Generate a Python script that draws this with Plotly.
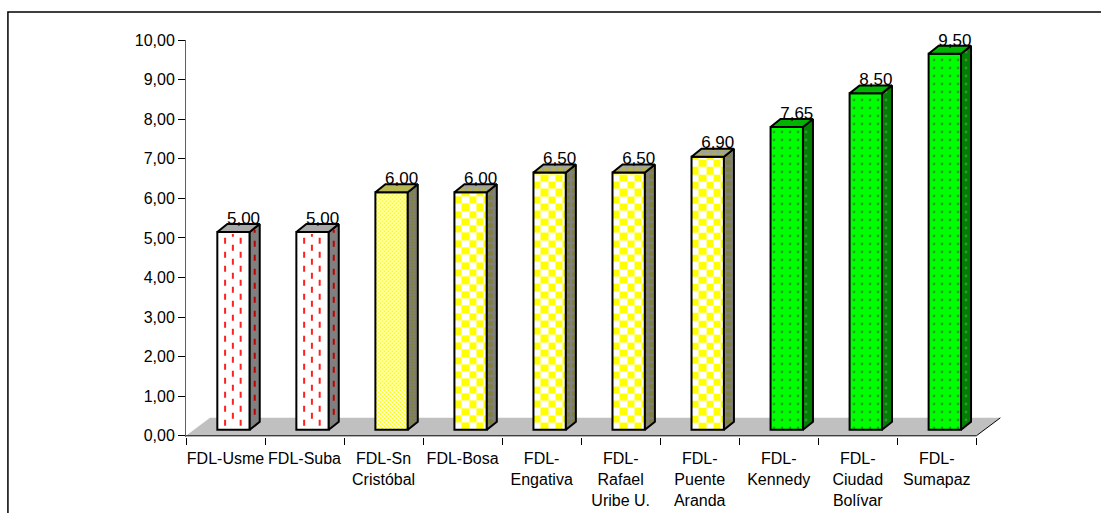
import numpy as np
import plotly.graph_objects as go

# ---- data -------------------------------------------------------------
categories = [
    "FDL-Usme", "FDL-Suba", "FDL-Sn<br>Cristóbal", "FDL-Bosa", "FDL-<br>Engativa",
    "FDL-<br>Rafael<br>Uribe U.", "FDL-<br>Puente<br>Aranda", "FDL-<br>Kennedy",
    "FDL-<br>Ciudad<br>Bolívar", "FDL-<br>Sumapaz",
]
values = [5.00, 5.00, 6.00, 6.00, 6.50, 6.50, 6.90, 7.65, 8.50, 9.50]
fill_styles = ["dashes", "dashes", "dither", "checker", "checker",
               "checker", "checker", "dots", "dots", "dots"]
y_ticks = list(range(0, 11))

# ---- geometry of the pseudo-3D layout ---------------------------------
W, H = 1101, 513
PX_X, PX_Y = 79.0, 39.6          # pixels per category / per unit
X_MIN, X_MAX = -0.5, 9.85
Y_MIN, Y_MAX = -0.03, 10.0
LEFT, TOP = 186.0, 40.0
plot_w = (X_MAX - X_MIN) * PX_X
plot_h = (Y_MAX - Y_MIN) * PX_Y
plot_bottom = TOP + plot_h

SHIFT_X, SHIFT_Y = 8 / PX_X, 6 / PX_Y     # bar plane sits mid-depth on the floor
BAR_W = 0.41
DX, DY = 10 / PX_X, 8 / PX_Y              # bar depth
FX, FY = 24 / PX_X, 18 / PX_Y             # floor depth
LABEL_DX, LABEL_DY = 10 / PX_X, -4 / PX_Y  # value label nudge
n = len(values)
xs = np.arange(n, dtype=float)

FONT = "Liberation Sans, Arial, sans-serif"

fig = go.Figure()

# ---- floor and category axis line (main subplot) -----------------------
fig.add_trace(go.Scatter(
    x=[-0.5, n - 0.5, n - 0.5 + FX, -0.5 + FX, -0.5],
    y=[0, 0, FY, FY, 0], mode="lines", fill="toself",
    fillcolor="#c0c0c0", line=dict(width=0), hoverinfo="skip", showlegend=False))
fig.add_trace(go.Scatter(
    x=[-0.5, n - 0.5, n - 0.5 + FX], y=[0, 0, FY], mode="lines",
    line=dict(color="#000000", width=1), hoverinfo="skip", showlegend=False))

# ---- checker / dither textures on the bar fronts -----------------------
def checker(xc, v, cell_px, c0, c1):
    xl, xr = xc - BAR_W / 2, xc + BAR_W / 2
    cw, ch = cell_px / PX_X, cell_px / PX_Y
    xe = list(np.arange(xl, xr, cw)) + [xr]
    ye = list(np.arange(0, v, ch)) + [v]
    z = [[(i + j) % 2 for j in range(len(xe) - 1)] for i in range(len(ye) - 1)]
    return go.Heatmap(x=xe, y=ye, z=z, zmin=0, zmax=1, showscale=False,
                      colorscale=[[0, c0], [1, c1]], hoverinfo="skip",
                      xaxis="x2", yaxis="y2")

for xc, v, st in zip(xs, values, fill_styles):
    if st == "checker":
        fig.add_trace(checker(xc, v, 7.3, "#ffffff", "#ffff00"))
    elif st == "dither":
        fig.add_trace(checker(xc, v, 2.0, "#ffffff", "#ffff00"))

# ---- bar fronts -------------------------------------------------------
front_color = {"dashes": "#ffffff", "dither": "rgba(0,0,0,0)",
               "checker": "rgba(0,0,0,0)", "dots": "#00ff00"}
fig.add_trace(go.Bar(
    x=xs, y=values, width=BAR_W, base=0,
    marker=dict(
        color=[front_color[s] for s in fill_styles],
        line=dict(color="#000000", width=2),
        pattern=dict(shape=["." if s == "dots" else "" for s in fill_styles],
                     fgcolor="#ffffff", size=8, solidity=0.1),
    ),
    hoverinfo="skip", showlegend=False, xaxis="x2", yaxis="y2"))

# ---- side and top faces -----------------------------------------------
side_style = {
    "dashes": dict(fillcolor="#808080"),
    "dither": dict(fillcolor="#808080", fillpattern=dict(shape=".", fgcolor="#808000", size=3, solidity=0.5)),
    "checker": dict(fillcolor="#808080", fillpattern=dict(shape=".", fgcolor="#808000", size=7, solidity=0.45)),
    "dots": dict(fillcolor="#008000", fillpattern=dict(shape=".", fgcolor="#7a9a7a", size=8, solidity=0.1)),
}
top_style = {
    "dashes": dict(fillcolor="#a8a8a8"),
    "dither": dict(fillcolor="#b8b850"),
    "checker": dict(fillcolor="#a0a0a0", fillpattern=dict(shape=".", fgcolor="#c0c000", size=7, solidity=0.45)),
    "dots": dict(fillcolor="#00b400"),
}

for st in ["dashes", "dither", "checker", "dots"]:
    sx, sy, tx, ty = [], [], [], []
    for xc, v, s in zip(xs, values, fill_styles):
        if s != st:
            continue
        xl, xr = xc - BAR_W / 2, xc + BAR_W / 2
        sx += [xr, xr + DX, xr + DX, xr, xr, None]
        sy += [0, DY, v + DY, v, 0, None]
        tx += [xl, xr, xr + DX, xl + DX, xl, None]
        ty += [v, v, v + DY, v + DY, v, None]
    for px, py, style in [(sx, sy, side_style[st]), (tx, ty, top_style[st])]:
        fig.add_trace(go.Scatter(
            x=px, y=py, mode="lines", fill="toself",
            line=dict(color="#000000", width=2), hoverinfo="skip",
            showlegend=False, xaxis="x2", yaxis="y2", **style))

# ---- red dashed stripes on the first two bars -------------------------
period = 14 / PX_Y
fx, fy, sxs, sys_ = [], [], [], []
for xc, v, s in zip(xs, values, fill_styles):
    if s != "dashes":
        continue
    xl = xc - BAR_W / 2
    for k, frac in enumerate([0.24, 0.48, 0.72]):
        start = 0.1 + (period / 2 if k % 2 else 0)
        fx += [xl + frac * BAR_W, xl + frac * BAR_W, None]
        fy += [start, v - 0.05, None]
    xr = xc + BAR_W / 2
    sxs += [xr + DX / 2, xr + DX / 2, None]
    sys_ += [DY / 2 + 0.1 + period / 2, v + DY / 2 - 0.05, None]
fig.add_trace(go.Scatter(x=fx, y=fy, mode="lines", connectgaps=False,
                         line=dict(color="#ff2020", width=2, dash="6px,8px"),
                         hoverinfo="skip", showlegend=False, xaxis="x2", yaxis="y2"))
fig.add_trace(go.Scatter(x=sxs, y=sys_, mode="lines", connectgaps=False,
                         line=dict(color="#c00000", width=2, dash="6px,8px"),
                         hoverinfo="skip", showlegend=False, xaxis="x2", yaxis="y2"))

# ---- value labels -----------------------------------------------------
fig.add_trace(go.Scatter(
    x=xs + LABEL_DX, y=[v + DY + LABEL_DY for v in values], mode="text",
    text=[f"{v:.2f}".replace(".", ",") for v in values],
    textposition="top center", cliponaxis=False,
    textfont=dict(family=FONT, size=17, color="#000000"),
    hoverinfo="skip", showlegend=False, xaxis="x2", yaxis="y2"))

# ---- frame ------------------------------------------------------------
fig.add_shape(type="rect", xref="paper", yref="paper",
              x0=(8 - LEFT) / plot_w, x1=(W + 20 - LEFT) / plot_w,
              y0=(plot_bottom - (H + 20)) / plot_h, y1=(plot_bottom - 12) / plot_h,
              line=dict(color="#000000", width=1.5))

fig.update_layout(
    width=W, height=H,
    margin=dict(l=LEFT, r=W - LEFT - plot_w, t=TOP, b=H - TOP - plot_h, pad=0,
                autoexpand=False),
    paper_bgcolor="#ffffff", plot_bgcolor="#ffffff",
    showlegend=False, barmode="overlay",
    font=dict(family=FONT, size=16, color="#000000"),
    xaxis=dict(
        range=[X_MIN, X_MAX], showline=False, showgrid=False, zeroline=False,
        automargin=False,
        tickmode="array", tickvals=list(xs), ticktext=categories, ticks="",
        ticklabelstandoff=10,
        tickfont=dict(family=FONT, size=16, color="#000000"),
        minor=dict(tickmode="array", tickvals=[i - 0.5 for i in range(n + 1)],
                   ticks="outside", ticklen=7, tickwidth=1, tickcolor="#000000", showgrid=False),
        fixedrange=True,
    ),
    yaxis=dict(
        range=[Y_MIN, Y_MAX], showline=True, linecolor="#606060", linewidth=1,
        automargin=False,
        showgrid=False, zeroline=False, tickmode="array", tickvals=y_ticks,
        tickformat=".2f", ticks="outside", ticklen=7, tickwidth=1, tickcolor="#000000",
        tickfont=dict(family=FONT, size=16, color="#000000"), fixedrange=True,
    ),
    xaxis2=dict(overlaying="x", range=[X_MIN - SHIFT_X, X_MAX - SHIFT_X],
                visible=False, fixedrange=True),
    yaxis2=dict(overlaying="y", range=[Y_MIN - SHIFT_Y, Y_MAX - SHIFT_Y],
                visible=False, fixedrange=True),
    separators=",.",
)

fig.write_html("out.html")
